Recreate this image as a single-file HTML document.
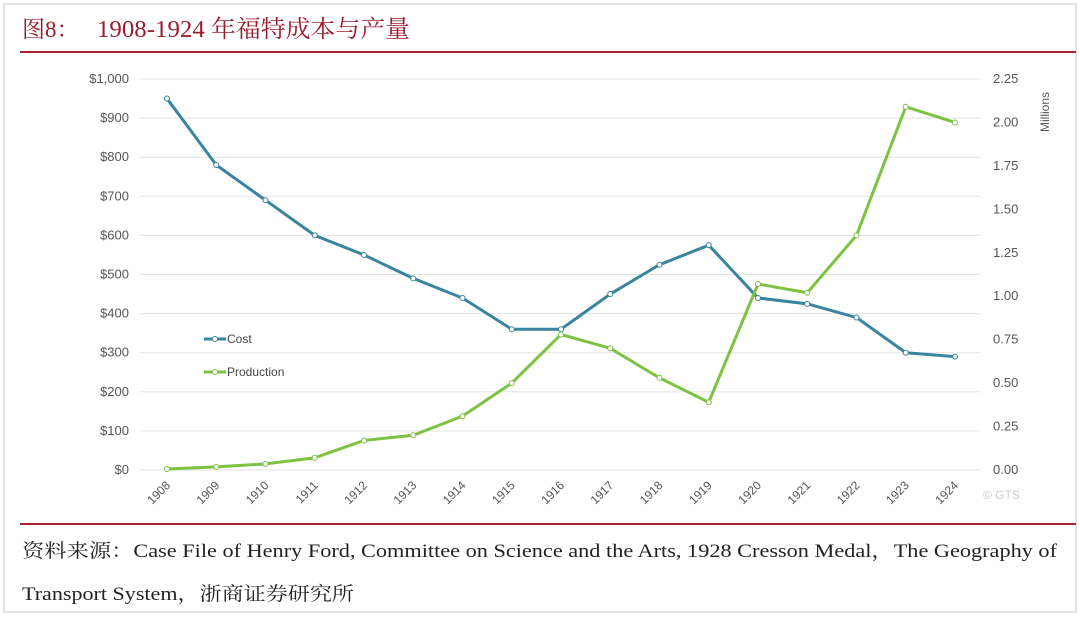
<!DOCTYPE html>
<html><head><meta charset="utf-8"><style>
html,body{margin:0;padding:0;background:#fff;}
svg{display:block;}
</style></head><body>
<svg id="chart" width="1080" height="618" viewBox="0 0 1080 618" xmlns="http://www.w3.org/2000/svg">
<rect x="4" y="4" width="1072" height="608" fill="#fff" stroke="#d8d8d8" stroke-width="1.5"/>
<text x="22" y="37" font-family="'Liberation Serif','Noto Serif CJK SC',serif" font-size="23" fill="#9b1c2e">图8：</text>
<text x="97" y="37" font-family="'Liberation Serif','Noto Serif CJK SC',serif" font-size="24" fill="#9b1c2e" textLength="313" lengthAdjust="spacingAndGlyphs">1908-1924 年福特成本与产量</text>
<line x1="20" y1="52" x2="1076" y2="52" stroke="#a8282f" stroke-width="2"/>
<g id="grid"></g>
<g id="yl"></g>
<g id="yr"></g>
<g id="xa"></g>
<text transform="translate(1049,112) rotate(-90)" text-anchor="middle" font-family="'Liberation Sans',sans-serif" font-size="12" fill="#555">Millions</text>
<g id="series"></g>
<g>
<g>
<line x1="204" y1="339" x2="226" y2="339" stroke="#3a84a0" stroke-width="3"/>
<circle cx="215" cy="339" r="2.5" fill="#fff" stroke="#3a84a0" stroke-width="1"/>
<text x="227" y="343" font-family="'Liberation Sans',sans-serif" font-size="12" fill="#444">Cost</text>
</g>
<g>
<line x1="204" y1="372" x2="226" y2="372" stroke="#7dc242" stroke-width="3"/>
<circle cx="215" cy="372" r="2.5" fill="#fff" stroke="#7dc242" stroke-width="1"/>
<text x="227" y="376" font-family="'Liberation Sans',sans-serif" font-size="12" fill="#444">Production</text>
</g>
</g>
<text x="983" y="499" font-family="'Liberation Sans',sans-serif" font-size="12" fill="#ccc">© GTS</text>
<line x1="20" y1="524" x2="1076" y2="524" stroke="#a8282f" stroke-width="2"/>
<text x="22" y="557" font-family="'Liberation Serif','Noto Serif CJK SC',serif" font-size="19" fill="#222" textLength="1035" lengthAdjust="spacingAndGlyphs">资料来源：Case File of Henry Ford, Committee on Science and the Arts, 1928 Cresson Medal，The Geography of</text>
<text x="22" y="600" font-family="'Liberation Serif','Noto Serif CJK SC',serif" font-size="19" fill="#222" textLength="332" lengthAdjust="spacingAndGlyphs">Transport System，浙商证券研究所</text>
</svg>
<script>
const years = [1908,1909,1910,1911,1912,1913,1914,1915,1916,1917,1918,1919,1920,1921,1922,1923,1924];
const costValues = [950,780,690,600,550,490,440,360,360,450,525,575,440,425,390,300,290];
const productionMillions = [0.006,0.018,0.035,0.07,0.17,0.2,0.31,0.5,0.78,0.70,0.53,0.39,1.07,1.02,1.35,2.09,2.0];
const leftTicks = [0,100,200,300,400,500,600,700,800,900,1000];
const leftTickLabels = ["$0","$100","$200","$300","$400","$500","$600","$700","$800","$900","$1,000"];
const rightTicks = [0,0.25,0.5,0.75,1,1.25,1.5,1.75,2,2.25];
const rightTickLabels = ["0.00","0.25","0.50","0.75","1.00","1.25","1.50","1.75","2.00","2.25"];

const NS = "http://www.w3.org/2000/svg";
const X0 = 167, X1 = 955, YB = 470, YT = 79;
function xScale(i){ return X0 + (X1 - X0) * i / (years.length - 1); }
function yLeft(v){ return YB - (YB - YT) * v / 1000; }
function yRight(v){ return YB - (YB - YT) * v / 2.25; }
function mk(tag, attrs, parent){ const e = document.createElementNS(NS, tag); for (const k in attrs) e.setAttribute(k, attrs[k]); parent.appendChild(e); return e; }

const grid = document.getElementById('grid'), yl = document.getElementById('yl'), yr = document.getElementById('yr'), xa = document.getElementById('xa'), ser = document.getElementById('series');
leftTicks.forEach((t, i) => {
  const y = yLeft(t);
  const g = mk('line', {x1: 140, x2: 980, y1: y, y2: y, stroke: '#e3e3e3', 'stroke-width': 1}, grid);
  
  
  const tx = mk('text', {x: 129, y: y + 4, 'text-anchor': 'end', 'font-family': "'Liberation Sans',sans-serif", 'font-size': 13, fill: '#555'}, yl);
  tx.textContent = leftTickLabels[i];
  
  
});
rightTicks.forEach((t, i) => {
  const tx = mk('text', {x: 993, y: yRight(t) + 4, 'font-family': "'Liberation Sans',sans-serif", 'font-size': 13, fill: '#555'}, yr);
  tx.textContent = rightTickLabels[i];
  
  
});
years.forEach((yr_, i) => {
  const x = xScale(i);
  const tx = mk('text', {transform: `translate(${x + 4},${486}) rotate(-45)`, 'text-anchor': 'end', 'font-family': "'Liberation Sans',sans-serif", 'font-size': 12, fill: '#555'}, xa);
  tx.textContent = yr_;
  
  
});
function drawSeries(vals, yf, color, name){
  const pts = vals.map((v, i) => xScale(i) + ',' + yf(v)).join(' ');
  const pl = mk('polyline', {points: pts, fill: 'none', stroke: color, 'stroke-width': 3, 'stroke-linejoin': 'round'}, ser);
  
  
  vals.forEach((v, i) => {
    const c = mk('circle', {cx: xScale(i), cy: yf(v), r: 2.5, fill: '#fff', stroke: color, 'stroke-width': 1}, ser);
    
    
  });
}
drawSeries(costValues, yLeft, '#3a84a0', 'cost');
drawSeries(productionMillions, yRight, '#7dc242', 'production');
</script>
</body></html>
